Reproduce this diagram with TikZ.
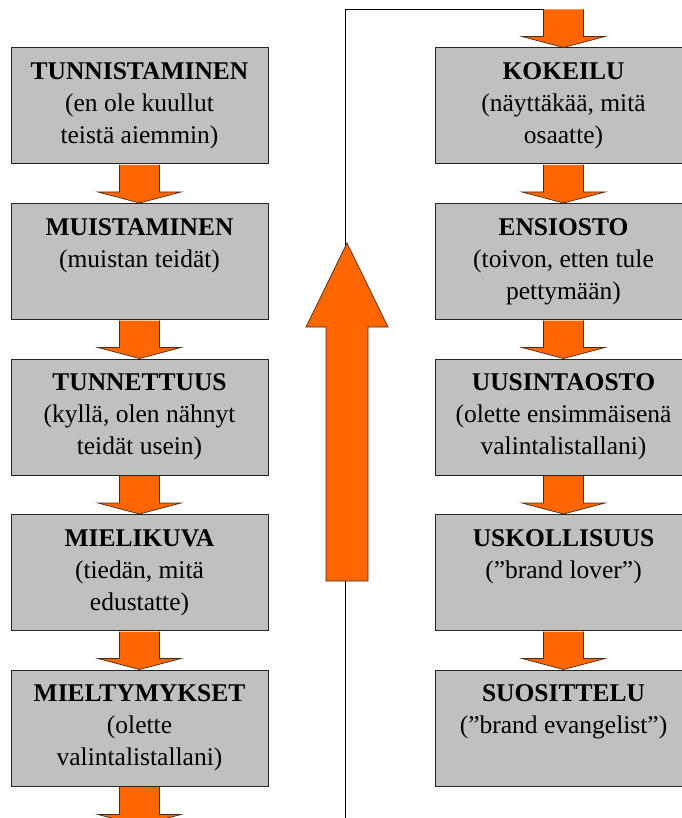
\documentclass[tikz,border=0pt]{standalone}
\usepackage{fontspec}
\setmainfont{Liberation Serif}[UprightFont=LiberationSerif, BoldFont=LiberationSerif-Bold]
\usetikzlibrary{positioning, calc}

\definecolor{boxgray}{RGB}{192,192,192}
\definecolor{floworange}{RGB}{255,102,0}
\definecolor{flowedge}{RGB}{70,45,30}

% paksu nuoli: #1 lahto, #2 karki
\newcommand{\fatarrow}[2]{%
  \filldraw[fatarrow] ($#1+(-20pt,0)$) -- ($#2+(-20pt,11pt)$) -- ($#2+(-41.5pt,11pt)$) -- #2
    -- ($#2+(41.5pt,11pt)$) -- ($#2+(20pt,11pt)$) -- ($#1+(20pt,0)$);}

\begin{document}
\begin{tikzpicture}[
			node distance=38.5pt and 166pt,
			stage/.style={rectangle, minimum width=257pt, minimum height=116pt, inner sep=0pt, draw=black!85, line width=1pt, fill=boxgray},
			stagetext/.style={align=center, inner sep=0pt, font=\rmfamily\fontsize{25.5}{32}\selectfont},
			fatarrow/.style={fill=floworange, draw=flowedge, line width=0.7pt, line join=miter},
			loopline/.style={line width=1pt, draw=black}
		]
		\useasboundingbox[fill=white] (0,0) rectangle (681pt,-818pt);

		% --- VASEN SARAKE ---
		\node (tunn) [stage] at (139.5pt,-106pt) {};
		\node (muist) [stage, below=of tunn] {};
		\node (tunnet) [stage, below=of muist] {};
		\node (mieli) [stage, below=of tunnet] {};
		\node (mielt) [stage, below=of mieli] {};

		% --- OIKEA SARAKE ---
		\node (kok) [stage, right=of tunn] {};
		\node (ensi) [stage, below=of kok] {};
		\node (uusi) [stage, below=of ensi] {};
		\node (usko) [stage, below=of uusi] {};
		\node (suos) [stage, below=of usko] {};

		% --- TEKSTIT ---
		\node (tunn-t) [stagetext, below=15pt of tunn.north] {\textbf{TUNNISTAMINEN}\\(en ole kuullut\\teistä aiemmin)};
		\node (muist-t) [stagetext, below=15pt of muist.north] {\textbf{MUISTAMINEN}\\(muistan teidät)};
		\node (tunnet-t) [stagetext, below=15pt of tunnet.north] {\textbf{TUNNETTUUS}\\(kyllä, olen nähnyt\\teidät usein)};
		\node (mieli-t) [stagetext, below=15pt of mieli.north] {\textbf{MIELIKUVA}\\(tiedän, mitä\\edustatte)};
		\node (mielt-t) [stagetext, below=15pt of mielt.north] {\textbf{MIELTYMYKSET}\\(olette\\valintalistallani)};
		\node (kok-t) [stagetext, below=15pt of kok.north] {\textbf{KOKEILU}\\(näyttäkää, mitä\\osaatte)};
		\node (ensi-t) [stagetext, below=15pt of ensi.north] {\textbf{ENSIOSTO}\\(toivon, etten tule\\pettymään)};
		\node (uusi-t) [stagetext, below=15pt of uusi.north] {\textbf{UUSINTAOSTO}\\(olette ensimmäisenä\\valintalistallani)};
		\node (usko-t) [stagetext, below=15pt of usko.north] {\textbf{USKOLLISUUS}\\(”brand lover”)};
		\node (suos-t) [stagetext, below=15pt of suos.north] {\textbf{SUOSITTELU}\\(”brand evangelist”)};

		% --- PALUUSILMUKKA ---
		\coordinate (loopin) at (345pt,-830pt);
		\coordinate (entry) at ($(kok.north)+(0,38pt)$);
		\coordinate (exit) at ($(mielt.south)+(0,-39pt)$);
		\draw [loopline] (loopin) |- ($(entry)+(-20pt,0)$);
		\filldraw [fatarrow] (326pt,-581pt) -- (326pt,-327pt) -- (306pt,-327pt) -- (347pt,-243pt)
			-- (388pt,-327pt) -- (368pt,-327pt) -- (368pt,-581pt) -- cycle;

		% --- NUOLET ---
		\fatarrow{([yshift=-0.5pt]tunn.south)}{(muist.north)}
		\fatarrow{([yshift=-0.5pt]muist.south)}{(tunnet.north)}
		\fatarrow{([yshift=-0.5pt]tunnet.south)}{(mieli.north)}
		\fatarrow{([yshift=-0.5pt]mieli.south)}{(mielt.north)}
		\fatarrow{([yshift=-0.5pt]mielt.south)}{(exit)}
		\fatarrow{(entry)}{(kok.north)}
		\fatarrow{([yshift=-0.5pt]kok.south)}{(ensi.north)}
		\fatarrow{([yshift=-0.5pt]ensi.south)}{(uusi.north)}
		\fatarrow{([yshift=-0.5pt]uusi.south)}{(usko.north)}
		\fatarrow{([yshift=-0.5pt]usko.south)}{(suos.north)}
	\end{tikzpicture}
\end{document}
